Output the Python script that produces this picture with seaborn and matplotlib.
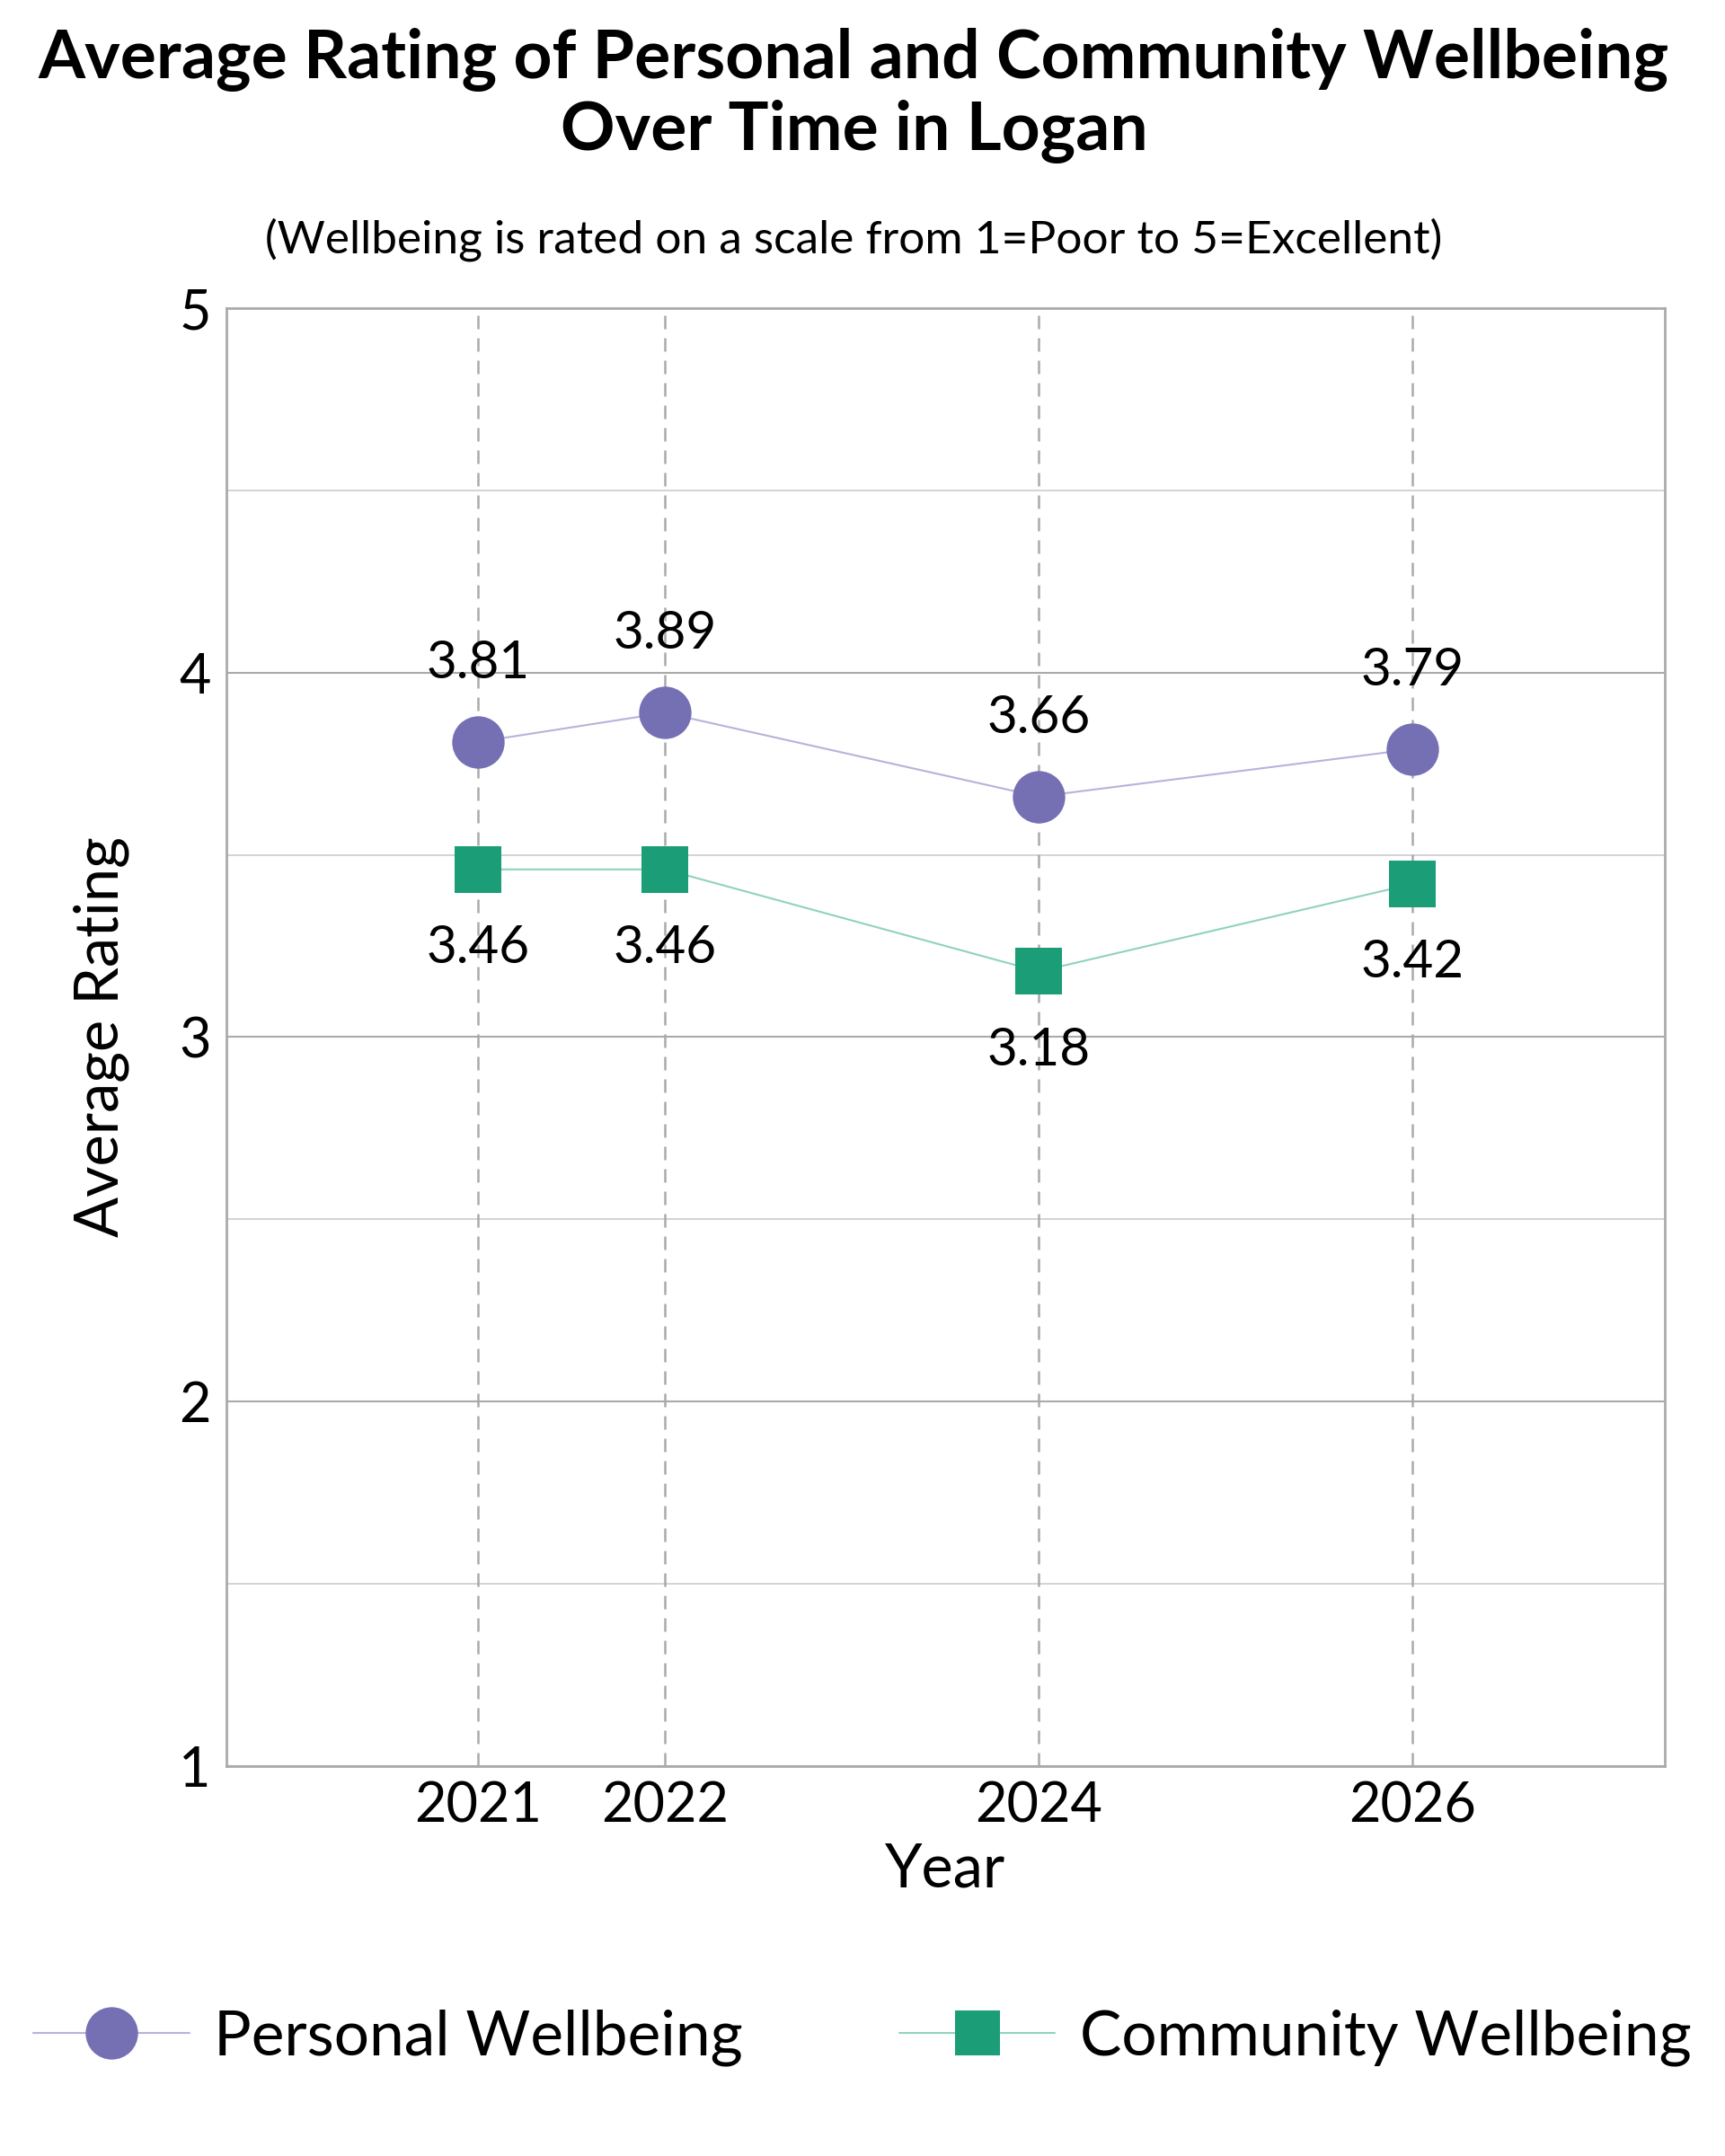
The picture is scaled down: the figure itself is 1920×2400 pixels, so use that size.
import matplotlib.pyplot as plt
import seaborn as sns
import pandas as pd
from matplotlib.lines import Line2D

years = [2021, 2022, 2024, 2026]
personal = [3.81, 3.89, 3.66, 3.79]
community = [3.46, 3.46, 3.18, 3.42]

df = pd.DataFrame({"Year": years * 2,
                   "Rating": personal + community,
                   "Series": ["Personal Wellbeing"] * 4 + ["Community Wellbeing"] * 4})

sns.set_theme(style="white")
plt.rcParams['font.family'] = ['Lato', 'DejaVu Sans']
plt.rcParams['text.color'] = 'black'
plt.rcParams['axes.labelcolor'] = 'black'
plt.rcParams['xtick.color'] = 'black'
plt.rcParams['ytick.color'] = 'black'

fig = plt.figure(figsize=(19.2, 24), dpi=100)
ax = fig.add_axes([0.131, 0.181, 0.834, 0.676])

purple = "#7570b3"
green = "#1b9e77"
sns.lineplot(data=df, x="Year", y="Rating", hue="Series", style="Series",
             palette={"Personal Wellbeing": purple, "Community Wellbeing": green},
             markers={"Personal Wellbeing": "o", "Community Wellbeing": "s"},
             dashes=False, markersize=42, markeredgewidth=0, linewidth=1.5,
             ax=ax, legend=False, zorder=3)
ax.lines[0].set_color("#b7b3da"); ax.lines[0].set_markerfacecolor(purple)
ax.lines[1].set_color("#8fd3bd"); ax.lines[1].set_markerfacecolor(green)
ax.lines[1].set_markersize(38)

for x, p, c in zip(years, personal, community):
    ax.annotate(f"{p:.2f}", (x, p), xytext=(0, 44), textcoords="offset points",
                ha="center", va="bottom", fontsize=42)
    ax.annotate(f"{c:.2f}", (x, c), xytext=(0, -44), textcoords="offset points",
                ha="center", va="top", fontsize=42)

ax.set_xlim(2019.65, 2027.35)
ax.set_ylim(1, 5)
ax.set_xticks(years)
ax.set_yticks([1, 2, 3, 4, 5])
ax.set_yticks([1.5, 2.5, 3.5, 4.5], minor=True)
ax.grid(axis="y", which="major", color="#aaaaaa", linewidth=1.5)
ax.grid(axis="y", which="minor", color="#cccccc", linewidth=1.2)
for x in years:
    ax.axvline(x, color="#aaaaaa", linestyle=(0, (6, 4)), linewidth=1.8, zorder=1)
for s in ax.spines.values():
    s.set_color("#aaaaaa"); s.set_linewidth(2)
ax.tick_params(labelsize=44, length=0, pad=12)
ax.set_xlabel("Year", fontsize=48, labelpad=8)
ax.set_ylabel("Average Rating", fontsize=48, labelpad=40)

fig.text(0.495, 0.987, "Average Rating of Personal and Community Wellbeing\nOver Time in Logan",
         ha="center", va="top", fontsize=54, fontweight="bold", linespacing=1.15)
fig.text(0.495, 0.889, "(Wellbeing is rated on a scale from 1=Poor to 5=Excellent)",
         ha="center", va="center", fontsize=37)

handles = [Line2D([], [], color="#b7b3da", marker="o", markerfacecolor=purple,
                  markeredgewidth=0, markersize=42, linewidth=1.5),
           Line2D([], [], color="#8fd3bd", marker="s", markerfacecolor=green,
                  markeredgewidth=0, markersize=36, linewidth=1.5)]
fig.legend(handles, ["Personal Wellbeing", "Community Wellbeing"], loc="center",
           bbox_to_anchor=(0.5, 0.055), ncol=2, frameon=False, fontsize=50,
           handlelength=2.5, columnspacing=2.5, handletextpad=0.4)

fig.savefig("out.png", dpi=100)
